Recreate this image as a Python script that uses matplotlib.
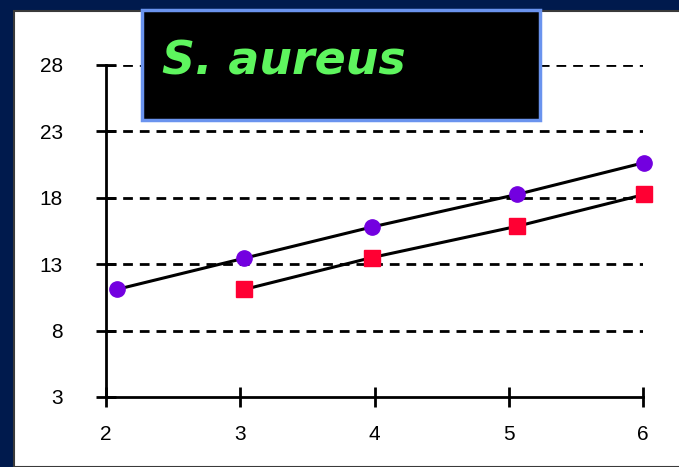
import matplotlib.pyplot as plt
from matplotlib.patches import Rectangle

# values
x_circles = [2.08, 3.03, 3.98, 5.06, 6.01]
y_circles = [11.1, 13.45, 15.8, 18.25, 20.65]
x_squares = [3.03, 3.98, 5.06, 6.01]
y_squares = [11.1, 13.5, 15.85, 18.25]
y_ticks = [3, 8, 13, 18, 23, 28]
x_ticks = [2, 3, 4, 5, 6]
title = 'S. aureus'

W, H = 679, 467
fig = plt.figure(figsize=(W / 100, H / 100), dpi=100, facecolor='#001a4d')

# white panel behind the axes
fig.patches.append(Rectangle((14 / W, 0), 1, 1 - 11 / H, transform=fig.transFigure,
                             facecolor='white', edgecolor='#3a3a3a', linewidth=1.5, zorder=-10))

ax = fig.add_axes([106 / W, 1 - 397 / H, (643 - 106) / W, (397 - 65) / H])
ax.set_facecolor('none')
ax.set_xlim(2, 6)
ax.set_ylim(3, 28)

ax.plot(x_circles, y_circles, color='black', lw=2.2, marker='o', ms=11,
        mfc='#7300e0', mec='#7300e0', clip_on=False, zorder=3)
ax.plot(x_squares, y_squares, color='black', lw=2.2, marker='s', ms=11,
        mfc='#ff0033', mec='#ff0033', clip_on=False, zorder=3)

for y in y_ticks[1:]:
    ax.axhline(y, color='black', lw=2, linestyle=(0, (3.5, 2.5)), zorder=1)

for s in ['top', 'right']:
    ax.spines[s].set_visible(False)
for s in ['left', 'bottom']:
    ax.spines[s].set_linewidth(2)

ax.set_xticks(x_ticks)
ax.set_yticks(y_ticks)
ax.tick_params(direction='inout', length=14, width=2, labelsize=15,
               labelfontfamily='Liberation Sans')
ax.tick_params(axis='y', pad=24)
ax.tick_params(axis='x', pad=13)

# title box
fig.patches.append(Rectangle((142 / W, 1 - 120 / H), (540 - 142) / W, (120 - 10) / H,
                             transform=fig.transFigure, facecolor='black',
                             edgecolor='#6a93ee', linewidth=2.5, zorder=5))
fig.text(284 / W, 1 - 62 / H, title, color='#5ef55e', fontsize=33, fontweight='bold',
         fontstyle='italic', family='DejaVu Sans', ha='center', va='center', zorder=6)

fig.savefig('out.png', dpi=100, facecolor=fig.get_facecolor())
